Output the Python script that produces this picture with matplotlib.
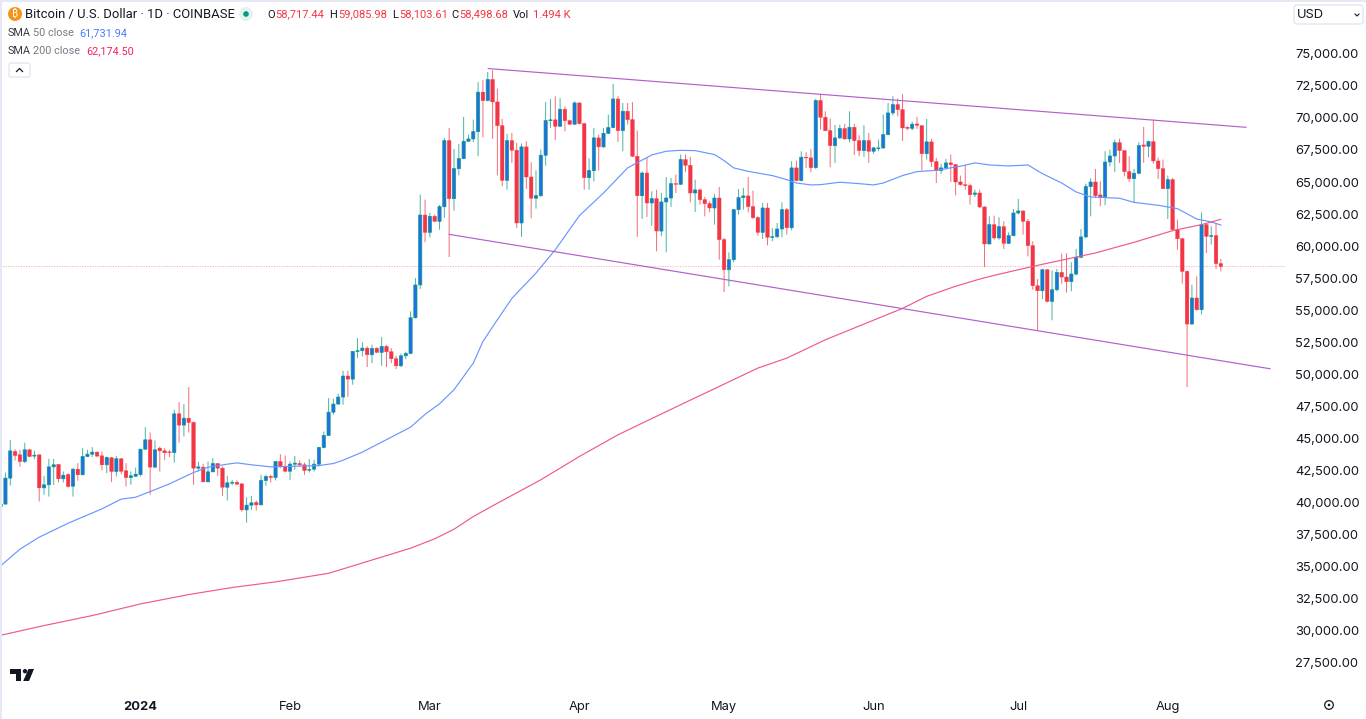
import matplotlib
matplotlib.use("Agg")
import matplotlib.pyplot as plt
from matplotlib.lines import Line2D
from matplotlib.patches import Circle, FancyBboxPatch, Polygon, Rectangle
from matplotlib.transforms import ScaledTranslation
import numpy as np

plt.rcParams["font.family"] = ["Inter", "DejaVu Sans"]

# days counted from 2024-01-01, one candle a day
days = np.arange(-29, 225)

opens = [
    39750, 39940, 41970, 44050, 43790, 43270, 44180, 43690, 43790, 41210,
    41450, 42850, 43040, 41920, 42250, 41340, 42670, 42230, 43660, 43840,
    44000, 43710, 43010, 43560, 42490, 43480, 42540, 42020, 42120, 42250,
    44230, 44960, 42830, 44310, 44100, 44020, 43970, 46990, 46110, 46650,
    46320, 42750, 42830, 41680, 42460, 43110, 42750, 41260, 41580, 41650,
    41520, 39490, 39860, 40070, 39880, 41790, 42100, 42020, 43270, 42880,
    42510, 43060, 43110, 43010, 42590, 42670, 43060, 44360, 45300, 47120,
    47750, 48300, 49940, 49700, 51860, 51920, 52120, 51600, 52100, 51790,
    52250, 51840, 51290, 50740, 51520, 51710, 54490, 57050, 62510, 61160,
    62410, 62020, 63160, 68320, 63790, 66130, 66910, 68270, 68450, 69020,
    72100, 71450, 73090, 71340, 69490, 65220, 68320, 67570, 61890, 67830,
    65480, 63820, 64020, 67180, 69880, 69940, 69440, 70770, 69880, 69600,
    71260, 69650, 65430, 65980, 68530, 67830, 68890, 69340, 71570, 69100,
    70610, 69960, 67100, 64020, 65790, 63450, 63790, 61260, 63530, 63840,
    64960, 64910, 66840, 66390, 64230, 64470, 63710, 63400, 63060, 63840,
    60590, 58240, 59020, 62930, 63870, 64000, 63170, 62310, 61160, 63060,
    60770, 60820, 61420, 62930, 61520, 66190, 65200, 67020, 66970, 66210,
    71450, 70140, 69100, 67930, 68530, 69260, 68450, 69360, 68320, 67540,
    68320, 67490, 67700, 67750, 68790, 70480, 71130, 70740, 69360, 69280,
    69620, 69490, 67300, 68220, 66680, 65980, 66190, 66580, 66450, 65090,
    64880, 64810, 64130, 64230, 63140, 60250, 61760, 60720, 61600, 60300,
    60900, 62670, 62830, 62020, 60120, 56990, 56600, 58240, 55770, 56680,
    58030, 57670, 57310, 57900, 59210, 60800, 64730, 65090, 64080, 63920,
    66650, 67120, 68160, 67540, 65900, 65350, 65770, 67980, 67880, 68240,
    66730, 66130, 64570, 65270, 61370, 60660, 58110, 54000, 56030, 55120,
    61760, 60850, 60900, 58717.44,
]
highs = [
    40010, 42410, 44960, 44230, 44180, 44730, 44260, 44100, 43790, 42150,
    43480, 43480, 43090, 42490, 42360, 42750, 43140, 44310, 44180, 44390,
    44050, 44050, 43660, 43610, 43710, 43530, 43140, 42490, 42800, 44230,
    45950, 45530, 44910, 44440, 44310, 44180, 47310, 47900, 47750, 49080,
    46390, 43240, 43090, 43270, 43530, 43140, 42880, 42150, 41840, 41790,
    41580, 40480, 40590, 40220, 42230, 42230, 42230, 43270, 43840, 43740,
    43270, 43710, 43350, 43190, 43450, 43400, 44420, 45610, 48220, 48170,
    48560, 50350, 50350, 51860, 52900, 52570, 52250, 52380, 52200, 52980,
    52380, 52120, 51520, 51680, 51840, 54990, 57590, 64100, 63710, 62670,
    62540, 63290, 68530, 69310, 67670, 68060, 70170, 68790, 69960, 72900,
    73030, 73680, 73820, 72380, 70010, 68840, 68920, 68140, 68090, 68270,
    66630, 66000, 67620, 71320, 71570, 71780, 71630, 71000, 69960, 71390,
    71320, 69700, 66940, 69310, 68790, 69310, 70350, 72750, 71780, 71260,
    71260, 71320, 69100, 65920, 66970, 64360, 64490, 64230, 65460, 65400,
    65670, 67230, 67230, 67050, 65270, 64570, 63920, 63580, 64150, 64700,
    60720, 59600, 62980, 64540, 64620, 65480, 64410, 62410, 63450, 63450,
    61500, 61890, 63500, 63060, 66710, 66760, 67490, 67410, 67670, 71580,
    71970, 70610, 70040, 69540, 69570, 69620, 70610, 69620, 68740, 69520,
    68920, 67830, 68400, 70350, 71260, 71780, 71600, 71970, 69440, 69800,
    70170, 69490, 70010, 68450, 66970, 66500, 66890, 67230, 66450, 65590,
    66420, 64960, 64490, 64490, 63190, 62410, 62460, 62330, 62020, 61160,
    62980, 63760, 62850, 62200, 60460, 57510, 58320, 58300, 58170, 58300,
    59490, 59540, 58820, 59860, 61420, 64960, 65400, 66110, 65140, 67490,
    67620, 68400, 68480, 67560, 67100, 66110, 68190, 69390, 68320, 69960,
    66990, 66840, 65590, 65400, 62150, 60720, 58190, 57070, 57720, 62720,
    61890, 61630, 61840, 59085.98,
]
lows = [
    39440, 39940, 41390, 43350, 42850, 43140, 43610, 43450, 40140, 40670,
    40530, 41450, 41630, 41630, 41240, 40530, 41780, 42200, 43610, 43610,
    43610, 42570, 42360, 41650, 42100, 42280, 41320, 41450, 42040, 42100,
    44180, 40670, 42750, 42490, 43400, 43610, 43190, 44750, 45220, 45530,
    41450, 42490, 41650, 41650, 42440, 42150, 40590, 40220, 41420, 41450,
    39360, 38500, 39490, 39440, 39880, 41370, 41630, 41790, 42750, 42410,
    41840, 42620, 42880, 42230, 42410, 42490, 42880, 44290, 45300, 46920,
    47750, 47700, 48320, 49260, 51340, 51470, 50640, 50950, 51730, 50740,
    50640, 50950, 50480, 50640, 51260, 51650, 54440, 56730, 60380, 60770,
    61970, 61370, 62280, 59230, 62850, 65610, 66910, 68220, 68190, 67100,
    68580, 71390, 68450, 65610, 64750, 64490, 66580, 61500, 60800, 64550,
    62250, 63010, 63920, 66370, 69310, 68350, 69390, 69050, 69570, 69570,
    69570, 64490, 64490, 65140, 66000, 67750, 68870, 69310, 68220, 67490,
    69570, 67040, 60800, 62200, 62360, 61680, 59680, 60850, 59600, 63140,
    64230, 64880, 65850, 63500, 62750, 63320, 62410, 62720, 61760, 59020,
    56500, 56940, 58820, 62540, 62930, 62720, 62200, 60900, 60640, 60140,
    60460, 60690, 60770, 60980, 61320, 65140, 65140, 66190, 65850, 66110,
    69180, 69050, 66240, 66580, 68450, 68400, 68190, 67200, 67100, 67050,
    66580, 67300, 67490, 67670, 68740, 70300, 70220, 68300, 69130, 69130,
    69230, 66000, 66840, 66260, 65010, 65740, 66050, 65090, 64050, 64800,
    64490, 63320, 63920, 63060, 58450, 60220, 60590, 60590, 59860, 60250,
    60850, 62540, 60980, 59280, 56680, 53500, 55950, 55690, 54290, 56550,
    57150, 56470, 56550, 57800, 59150, 60720, 62410, 63840, 63190, 63270,
    66310, 65850, 66580, 65530, 65090, 63450, 65710, 66580, 67020, 66520,
    65330, 64550, 62200, 61320, 59800, 57150, 49080, 53950, 55050, 54750,
    59540, 60200, 58300, 58103.61,
]
closes = [
    39940, 41970, 44100, 43740, 43270, 44180, 43660, 43760, 41210, 41450,
    42850, 43010, 41920, 42200, 41320, 42670, 42230, 43660, 43840, 44000,
    43690, 43010, 43580, 42490, 43480, 42510, 42020, 42150, 42280, 44230,
    44960, 42830, 44180, 44100, 43950, 43970, 46990, 46110, 46650, 46320,
    42750, 42850, 41680, 42460, 43110, 42750, 41260, 41600, 41630, 41500,
    39490, 39860, 40040, 39880, 41790, 42100, 42020, 43270, 42880, 42510,
    43060, 43140, 43010, 42570, 42640, 43060, 44360, 45300, 47120, 47750,
    48300, 49940, 49700, 51860, 51920, 52120, 51600, 52100, 51790, 52250,
    51840, 51290, 50740, 51520, 51710, 54490, 57050, 62510, 61160, 62410,
    62020, 63160, 68320, 63790, 66130, 66910, 68270, 68450, 69020, 72100,
    71450, 73090, 71340, 69490, 65220, 68320, 67570, 61890, 67830, 65480,
    63820, 64020, 67180, 69880, 69940, 69440, 70770, 69880, 69600, 71260,
    69650, 65430, 65980, 68530, 67830, 68890, 69340, 71570, 69100, 70610,
    69960, 67100, 64020, 65790, 63450, 63790, 61260, 63530, 63840, 64960,
    64910, 66840, 66390, 64230, 64470, 63710, 63400, 63060, 63840, 60590,
    58240, 59020, 62930, 63870, 64000, 63170, 62310, 61160, 63060, 60770,
    60820, 61420, 62930, 61520, 66190, 65200, 67020, 66970, 66210, 71450,
    70140, 69100, 67930, 68530, 69260, 68450, 69360, 68320, 67540, 68320,
    67490, 67750, 67750, 68790, 70480, 71130, 70740, 69310, 69280, 69600,
    69520, 67300, 68220, 66680, 65980, 66190, 66580, 66450, 65090, 64880,
    64810, 64100, 64230, 63140, 60250, 61760, 60720, 61600, 60300, 60900,
    62670, 62830, 62020, 60120, 56990, 56600, 58240, 55770, 56680, 58030,
    57670, 57310, 57900, 59210, 60800, 64730, 65090, 64020, 63920, 66650,
    67120, 68160, 67540, 65900, 65350, 65770, 67930, 67880, 68240, 66730,
    66130, 64570, 65270, 61370, 60660, 58110, 54000, 56030, 55120, 61760,
    60850, 60900, 58717.44, 58498.68,
]

sma50_days = [
    -29, -25, -21, -15, -8, -4, -1, 2, 6, 11, 14, 18, 20, 23, 27, 32, 37, 40, 42, 46,
    50, 56, 59, 62, 65, 69, 71, 74, 77, 82, 86, 91, 96, 101, 106, 109, 112, 115, 119, 121,
    123, 126, 131, 134, 136, 139, 141, 145, 149, 152, 154, 158, 161, 165, 170, 173, 176, 180, 184, 187,
    191, 194, 197, 203, 206, 211, 215, 219, 222, 224,
]
sma50 = [
    35120, 36420, 37360, 38450, 39570, 40330, 40480, 40920, 41520, 42410, 42820, 43060, 43160, 43010, 42850, 42900, 42950, 43110, 43370, 44000,
    44780, 45950, 46950, 47770, 48870, 50950, 52640, 54340, 56000, 57980, 59800, 62460, 64230, 66190, 67200, 67490, 67560, 67540, 67230, 66760,
    66190, 65920, 65590, 65270, 65010, 64860, 64880, 65070, 64960, 64860, 65010, 65590, 65900, 66000, 66320, 66580, 66420, 66340, 66420, 65740,
    65010, 64310, 63920, 63820, 63500, 63270, 63010, 62200, 61970, 61731.94,
]
sma200_days = [
    -29, -20, -10, 0, 10, 19, 28, 39, 47, 56, 61, 65, 69, 74, 83, 91, 99, 104,
    112, 120, 128, 134, 142, 151, 158, 163, 169, 174, 177, 185, 193, 198, 206, 214, 220, 224,
]
sma200 = [
    29700, 30460, 31240, 32150, 32880, 33430, 33870, 34540, 35460, 36500, 37230, 37980, 38970, 40010, 41840, 43660, 45350, 46260,
    47700, 49130, 50560, 51340, 52770, 54150, 55220, 56160, 56950, 57510, 57800, 58500, 59150, 59550, 60380, 61290, 61760, 62174.50,
]

upper_trend_days = [72.1, 229.2]
upper_trend = [73945, 69359]
lower_trend_days = [64.0, 234.2]
lower_trend = [61000, 50508]

last_price = 58498.68

price_ticks = list(range(27500, 75001, 2500))
price_labels = [f"{p:,.2f}" for p in price_ticks]
month_days = [0, 31, 60, 91, 121, 152, 182, 213]
month_labels = ["2024", "Feb", "Mar", "Apr", "May", "Jun", "Jul", "Aug"]

INK = "#131722"
GRAY = "#787b86"
RED = "#f23645"
TEAL = "#089981"
BLUE = "#1f6fe5"
HEAD = ["Roboto", "DejaVu Sans"]

opens, highs, lows, closes = map(np.array, (opens, highs, lows, closes))

fig = plt.figure(figsize=(13.66, 7.19), dpi=100, facecolor="white")
ax = fig.add_axes([0, 26 / 719, 1285 / 1366, 693 / 719])
ax.set_xlim(-29.13, 237.3)
ax.set_ylim(25195, 79297)

# candles
up = closes >= opens
wicks = ax.vlines(days, lows, highs, colors=np.where(up, TEAL, RED).tolist(), linewidth=0.72, alpha=0.72, zorder=2)
wicks.set_snap(False)
body_low = np.minimum(opens, closes)
body_h = np.abs(closes - opens)
up_bars = ax.bar(days[up], body_h[up], 0.66, bottom=body_low[up], color=BLUE,
                 edgecolor="#0a9a88", linewidth=0.5, zorder=3)
down_bars = ax.bar(days[~up], body_h[~up], 0.74, bottom=body_low[~up], color=RED,
                   edgecolor=RED, linewidth=0.3, zorder=3)
for bar in list(up_bars) + list(down_bars):
    bar.set_snap(False)

# moving averages and channel
ax.plot(sma50_days, sma50, color="#6a95ff", linewidth=0.85, zorder=4)
ax.plot(sma200_days, sma200, color="#f0588e", linewidth=0.85, zorder=4)
ax.plot(upper_trend_days, upper_trend, color="#b25fcb", linewidth=0.85, zorder=5)
ax.plot(lower_trend_days, lower_trend, color="#b25fcb", linewidth=0.85, zorder=5)
ax.axhline(last_price, color="#f9b3b9", linewidth=0.8, linestyle=(0, (1, 1.3)), zorder=1)

for side in ax.spines.values():
    side.set_visible(False)
ax.yaxis.tick_right()
ax.set_yticks(price_ticks, price_labels, fontsize=9.3, color=INK)
ax.set_xticks(month_days, month_labels, fontsize=9.3, color=INK)
ax.tick_params(axis="both", length=0)
ax.tick_params(axis="y", pad=7.5)
ax.tick_params(axis="x", pad=5.6)
ax.get_xticklabels()[0].set_fontweight("bold")
nudge = ScaledTranslation(0, 0.8 / 72, fig.dpi_scale_trans)
for lab in ax.get_yticklabels():
    lab.set_transform(lab.get_transform() + nudge)

# header and chrome, in pixel units
top = fig.add_axes([0, 0, 1, 1], facecolor="none")
top.set_xlim(0, 1366)
top.set_ylim(719, 0)
top.axis("off")

top.add_patch(Rectangle((0, 0), 1366, 2, color="#e6e9f4", lw=0))
top.add_patch(Rectangle((0, 0), 1.5, 719, color="#e6e9f4", lw=0))

top.add_patch(Circle((15, 14), 7, color="#f7931a", lw=0))
top.text(15, 14.3, "₿", color="white", fontsize=7.5, ha="center", va="center", fontweight="bold",
         family=["Noto Sans", "Open Sans", "Lato", "Roboto", "Inter"])
top.text(25, 14.5, "Bitcoin / U.S. Dollar · 1D · COINBASE", color=INK, fontsize=9.4, va="center", family=HEAD)
top.add_patch(Circle((246, 14), 7, color="#e3f3f0", lw=0))
top.add_patch(Circle((246, 14), 2.8, color=TEAL, lw=0))

ohlc_text = [
    (267, "O", INK), (275, "58,717.44", RED),
    (329, "H", INK), (338, "59,085.98", RED),
    (392, "L", INK), (399, "58,103.61", RED),
    (451, "C", INK), (459, "58,498.68", RED),
    (513, "Vol", INK), (533, "1.494 K", RED),
]
for x, s, c in ohlc_text:
    top.text(x, 14.5, s, color=c, fontsize=8.0, va="center", family=HEAD)

top.text(8, 33, "SMA", color=INK, fontsize=7.8, va="center", alpha=0.85, family=HEAD)
top.text(33, 33, "50 close", color=GRAY, fontsize=7.8, va="center", family=HEAD)
top.text(79, 33, "61,731.94", color="#2962ff", fontsize=7.8, va="center", alpha=0.85, family=HEAD)
top.text(8, 51.5, "SMA", color=INK, fontsize=7.8, va="center", alpha=0.85, family=HEAD)
top.text(33, 51.5, "200 close", color=GRAY, fontsize=7.8, va="center", family=HEAD)
top.text(86, 51.5, "62,174.50", color="#f0265f", fontsize=7.8, va="center", family=HEAD)

top.add_patch(FancyBboxPatch((9, 63), 21, 14, boxstyle="round,pad=0,rounding_size=2",
                             fc="white", ec="#e0e3eb", lw=0.9))
top.add_line(Line2D([16.5, 19.5, 22.5], [71.5, 68.5, 71.5], color=INK, lw=0.9))

top.add_patch(FancyBboxPatch((1294, 5), 69, 19, boxstyle="round,pad=0,rounding_size=3",
                             fc="white", ec="#e0e3eb", lw=0.9))
top.text(1297, 15, "USD", color=INK, fontsize=9.3, va="center")
top.add_line(Line2D([1355, 1357, 1359], [14, 16, 14], color=INK, lw=0.8))

# TV mark
top.add_patch(Polygon([(10, 669), (21, 669), (21, 681), (16, 681), (16, 673.5), (10, 673.5)], color=INK, lw=0))
top.add_patch(Circle((25, 671.2), 2.2, color=INK, lw=0))
top.add_patch(Polygon([(28.5, 669), (34, 669), (29, 681), (23.2, 681)], color=INK, lw=0))

# settings mark, bottom right
top.add_patch(Circle((1329, 705), 4.3, fc="none", ec=INK, lw=0.9))
top.add_patch(Circle((1329, 705), 1.3, color=INK, lw=0))

fig.savefig("out.png", dpi=100, facecolor="white")
